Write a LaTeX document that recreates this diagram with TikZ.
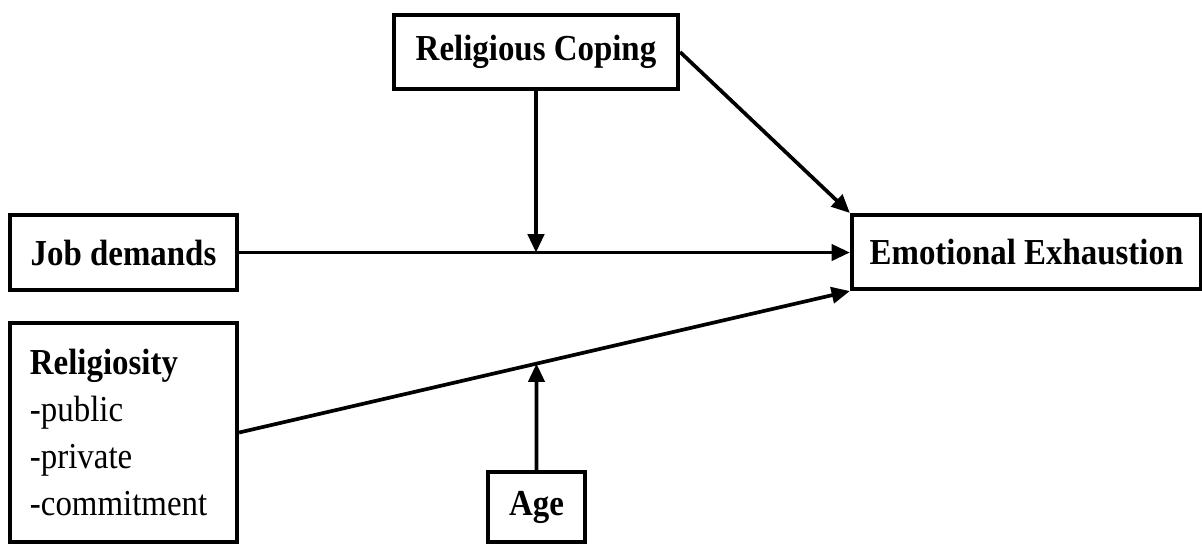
\documentclass[tikz,border=0pt]{standalone}
\usepackage{fontspec}
\setmainfont[FakeStretch=0.9]{Liberation Serif}
\usetikzlibrary{arrows.meta,intersections}
\begin{document}
\begin{tikzpicture}[x=0.01cm,y=-0.01cm,
  box/.style={draw, line width=1.15pt, rectangle, inner sep=0pt, font=\fontsize{10.4}{13.3}\selectfont\bfseries},
  arr/.style={line width=1.05pt, -{Triangle[length=5.2pt,width=4.6pt]}}]
\useasboundingbox (0,0) rectangle (1202,544);
\node[box, minimum width=2.84cm, minimum height=0.74cm] (rc) at (536,52) {Religious Coping};
\node[box, minimum width=2.27cm, minimum height=0.75cm] (jd) at (123.5,252.5) {Job demands};
\node[box, minimum width=3.49cm, minimum height=0.74cm] (ee) at (1026.5,252) {Emotional Exhaustion};
\node[box, minimum width=2.27cm, minimum height=2.19cm, text width=1.87cm, align=left, font=\fontsize{10.4}{13.3}\selectfont] (rel) at (123.5,432.5) {\textbf{Religiosity}\\-public\\-private\\-commitment};
\node[box, minimum width=0.97cm, minimum height=0.70cm] (age) at (536.5,507) {Age};
\draw[arr] (rc.east) -- (ee.north west);
\draw[arr] (jd.east) -- (jd.east -| ee.west);
\draw[arr] (rc.south) -- (rc.south |- jd.east);
\draw[arr, name path=relline] (rel.east) -- (ee.south west);
\path[name path=agev] (age.north) -- ++(0,-200);
\draw[arr, name intersections={of=relline and agev, by=m2}] (age.north) -- (m2);
\end{tikzpicture}
\end{document}
